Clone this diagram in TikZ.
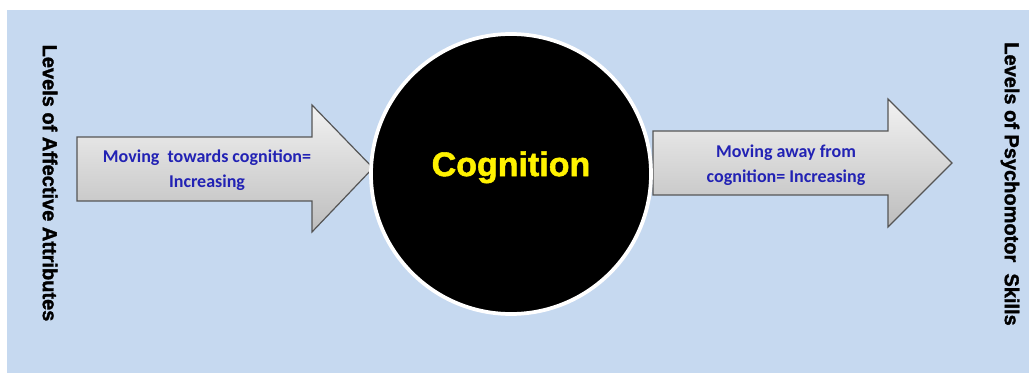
\documentclass[tikz,border=0pt]{standalone}
\usepackage{fontspec}
\setmainfont{Liberation Sans}
\newfontfamily\calibri{Carlito}
\newfontfamily\heavysans[FakeBold=1.6]{Liberation Sans Bold}
\definecolor{bgblue}{HTML}{C6D9F0}
\definecolor{arrowtop}{HTML}{F2F2F2}
\definecolor{arrowbottom}{HTML}{BDBDBD}
\definecolor{arrowline}{HTML}{555555}
\definecolor{movetext}{HTML}{2222B4}
\begin{document}
\begin{tikzpicture}[x=0.75pt, y=-0.75pt,
        levels/.style={font=\heavysans\fontsize{15}{18}\selectfont, rotate=-90},
        arrowtext/.style={font=\calibri\fontsize{13.5}{19}\selectfont\bfseries, text=movetext, align=center},
        fatarrow/.style={draw=arrowline, line width=0.9pt, top color=arrowtop, bottom color=arrowbottom}]
    \useasboundingbox (0,0) rectangle (1029,374);
    \fill[white] (0,0) rectangle (1029,374);
    \fill[bgblue] (7,10) rectangle (1029,373);
    \node[levels] (affective) at (50,183) {Levels of Affective Attributes};
    \node[levels] (psychomotor) at (1010,184) {Levels of Psychomotor~~Skills};
    \path[fatarrow] (77,137) -- (312,137) -- (312,105) -- (373,168) -- (312,232) -- (312,201) -- (77,201) -- cycle;
    \path[fatarrow] (653,131) -- (888,131) -- (888,99) -- (952,163) -- (888,227) -- (888,195) -- (653,195) -- cycle;
    \node[circle, fill=black, draw=white, line width=2.8pt, minimum size=210pt, inner sep=0pt] (cog) at (511,174) {};
    \node[text=yellow, font=\heavysans\fontsize{25.5}{28}\selectfont] (cogtext) at ([yshift=5pt]cog.center) {Cognition};
    \node[arrowtext] (towards) at (207,170) {Moving~~towards cognition=\\Increasing};
    \node[arrowtext] (away) at (786,165) {Moving away from\\cognition= Increasing};
\end{tikzpicture}
\end{document}
